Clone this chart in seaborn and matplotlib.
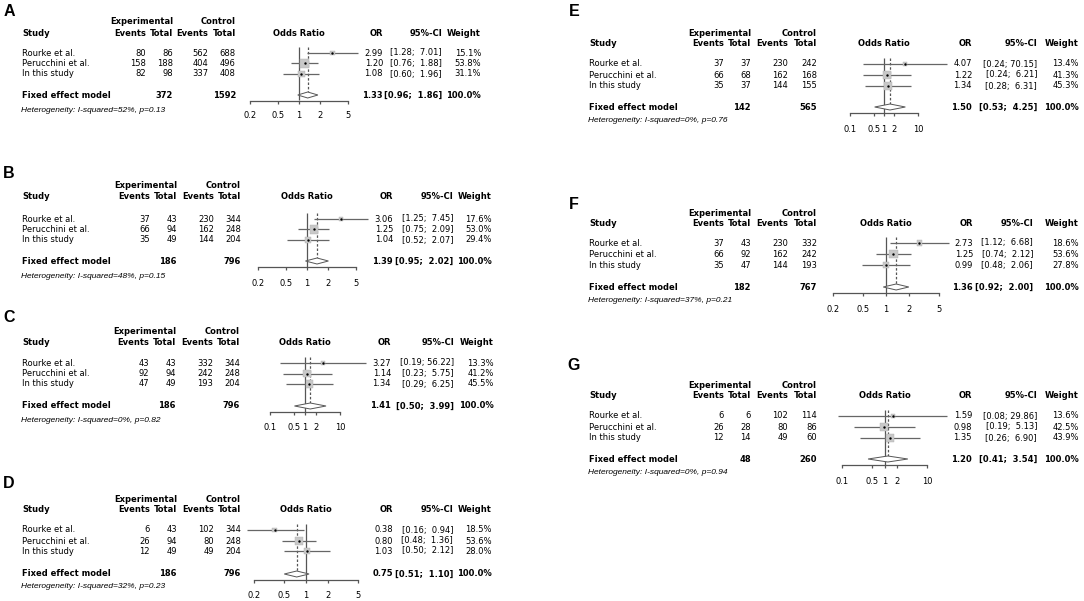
import matplotlib
matplotlib.use('Agg')
import matplotlib.pyplot as plt
from matplotlib.ticker import NullLocator
import seaborn as sns
import pandas as pd

W, H = 1084, 601

studies = ['Rourke et al.', 'Perucchini et al.', 'In this study']
panels = ['A', 'B', 'C', 'D', 'E', 'F', 'G']

exp_events = {'A': [80, 158, 82], 'B': [37, 66, 35], 'C': [43, 92, 47], 'D': [6, 26, 12],
              'E': [37, 66, 35], 'F': [37, 66, 35], 'G': [6, 26, 12]}
exp_total = {'A': [86, 188, 98], 'B': [43, 94, 49], 'C': [43, 94, 49], 'D': [43, 94, 49],
             'E': [37, 68, 37], 'F': [43, 92, 47], 'G': [6, 28, 14]}
ctrl_events = {'A': [562, 404, 337], 'B': [230, 162, 144], 'C': [332, 242, 193], 'D': [102, 80, 49],
               'E': [230, 162, 144], 'F': [230, 162, 144], 'G': [102, 80, 49]}
ctrl_total = {'A': [688, 496, 408], 'B': [344, 248, 204], 'C': [344, 248, 204], 'D': [344, 248, 204],
              'E': [242, 168, 155], 'F': [332, 242, 193], 'G': [114, 86, 60]}
odds_ratio = {'A': [2.99, 1.20, 1.08], 'B': [3.06, 1.25, 1.04], 'C': [3.27, 1.14, 1.34], 'D': [0.38, 0.80, 1.03],
              'E': [4.07, 1.22, 1.34], 'F': [2.73, 1.25, 0.99], 'G': [1.59, 0.98, 1.35]}
ci_low = {'A': [1.28, 0.76, 0.60], 'B': [1.25, 0.75, 0.52], 'C': [0.19, 0.23, 0.29], 'D': [0.16, 0.48, 0.50],
          'E': [0.24, 0.24, 0.28], 'F': [1.12, 0.74, 0.48], 'G': [0.08, 0.19, 0.26]}
ci_high = {'A': [7.01, 1.88, 1.96], 'B': [7.45, 2.09, 2.07], 'C': [56.22, 5.75, 6.25], 'D': [0.94, 1.36, 2.12],
           'E': [70.15, 6.21, 6.31], 'F': [6.68, 2.12, 2.06], 'G': [29.86, 5.13, 6.90]}
weight = {'A': [15.1, 53.8, 31.1], 'B': [17.6, 53.0, 29.4], 'C': [13.3, 41.2, 45.5], 'D': [18.5, 53.6, 28.0],
          'E': [13.4, 41.3, 45.3], 'F': [18.6, 53.6, 27.8], 'G': [13.6, 42.5, 43.9]}
pooled_or = {'A': 1.33, 'B': 1.39, 'C': 1.41, 'D': 0.75, 'E': 1.50, 'F': 1.36, 'G': 1.20}
pooled_low = {'A': 0.96, 'B': 0.95, 'C': 0.50, 'D': 0.51, 'E': 0.53, 'F': 0.92, 'G': 0.41}
pooled_high = {'A': 1.86, 'B': 2.02, 'C': 3.99, 'D': 1.10, 'E': 4.25, 'F': 2.00, 'G': 3.54}
i_squared = {'A': 52, 'B': 48, 'C': 0, 'D': 32, 'E': 0, 'F': 37, 'G': 0}
p_het = {'A': '0.13', 'B': '0.15', 'C': '0.82', 'D': '0.23', 'E': '0.76', 'F': '0.21', 'G': '0.94'}

ticks_narrow = [0.2, 0.5, 1, 2, 5]
ticks_wide = [0.1, 0.5, 1, 2, 10]
panel_ticks = {'A': ticks_narrow, 'B': ticks_narrow, 'C': ticks_wide, 'D': ticks_narrow,
               'E': ticks_wide, 'F': ticks_narrow, 'G': ticks_wide}

# pixel layout: letter, study x, column right edges, axis x range, OR/CI/weight right edges
# y: exp header, study header, row1, row2, row3, pooled, axis, heterogeneity, tick labels
layout = {
    'A': dict(letter=(9, 12), xs=22, cols=[146, 173, 208, 236], ax_x=(250, 348), xr=[383, 442, 481],
              y=[22, 33, 53, 63.5, 74, 95, 100.5, 110, 116]),
    'B': dict(letter=(9, 173), xs=22, cols=[150, 177, 214, 241], ax_x=(258, 356), xr=[393, 453, 492],
              y=[186, 197, 219, 229.5, 240, 261, 266.5, 276, 283]),
    'C': dict(letter=(9, 317), xs=22, cols=[149, 176, 213, 240], ax_x=(270, 340), xr=[391, 454, 494],
              y=[332, 342, 363, 373.5, 384, 406, 411.5, 420, 427]),
    'D': dict(letter=(9, 484), xs=22, cols=[150, 177, 214, 241], ax_x=(254, 358), xr=[393, 453, 492],
              y=[499, 510, 530, 541, 551, 574, 579.5, 587, 595]),
    'E': dict(letter=(574, 12), xs=589, cols=[724, 751, 788, 817], ax_x=(850, 918), xr=[972, 1037, 1079],
              y=[33, 44, 64, 75, 86, 107, 112.5, 121, 129]),
    'F': dict(letter=(574, 205), xs=589, cols=[724, 751, 788, 817], ax_x=(833, 939), xr=[973, 1033, 1079],
              y=[213, 223, 243, 254, 265, 287, 292.5, 301, 309]),
    'G': dict(letter=(574, 365), xs=589, cols=[724, 751, 788, 817], ax_x=(842, 927), xr=[972, 1037, 1079],
              y=[385, 395, 416, 427, 438, 459, 464.5, 473, 481]),
}

sns.set_theme(style='white')
plt.rcParams['font.family'] = ['DejaVu Sans']
plt.rcParams['text.color'] = 'black'

LINE = '#555555'
FS = 6

fig = plt.figure(figsize=(W / 100, H / 100), dpi=100)


def put(x, y, s, ha='left', **kw):
    fig.text(x / W, 1 - y / H, s, ha=ha, va='center', fontsize=kw.pop('fontsize', FS),
             color='black', **kw)


def draw_panel(key):
    lay = layout[key]
    y_exp, y_hdr, r0, r1, r2, y_pool, y_axis, y_het, y_tl = lay['y']
    rows = [r0, r1, r2]
    c1, c2, c3, c4 = lay['cols']
    x_or, x_ci, x_w = lay['xr']
    x0, x1 = lay['ax_x']

    put(lay['letter'][0], lay['letter'][1], key, ha='center', fontsize=11.5,
        fontweight='bold', family='Liberation Sans')

    # headers
    put(c2, y_exp, 'Experimental', ha='right', fontweight='bold')
    put(c4, y_exp, 'Control', ha='right', fontweight='bold')
    put(lay['xs'], y_hdr, 'Study', fontweight='bold')
    for x, s in zip(lay['cols'], ['Events', 'Total', 'Events', 'Total']):
        put(x, y_hdr, s, ha='right', fontweight='bold')
    put((x0 + x1) / 2, y_hdr, 'Odds Ratio', ha='center', fontweight='bold')
    put(x_or, y_hdr, 'OR', ha='right', fontweight='bold')
    put(x_ci, y_hdr, '95%-CI', ha='right', fontweight='bold')
    put(x_w, y_hdr, 'Weight', ha='right', fontweight='bold')

    # study rows
    for i, y in enumerate(rows):
        put(lay['xs'], y, studies[i])
        put(c1, y, str(exp_events[key][i]), ha='right')
        put(c2, y, str(exp_total[key][i]), ha='right')
        put(c3, y, str(ctrl_events[key][i]), ha='right')
        put(c4, y, str(ctrl_total[key][i]), ha='right')
        put(x_or, y, f'{odds_ratio[key][i]:.2f}', ha='right')
        put(x_ci, y, f'[{ci_low[key][i]:.2f}; {ci_high[key][i]:5.2f}]', ha='right')
        put(x_w, y, f'{weight[key][i]:.1f}%', ha='right')

    # pooled row
    put(lay['xs'], y_pool, 'Fixed effect model', fontweight='bold')
    put(c2, y_pool, str(sum(exp_total[key])), ha='right', fontweight='bold')
    put(c4, y_pool, str(sum(ctrl_total[key])), ha='right', fontweight='bold')
    put(x_or, y_pool, f'{pooled_or[key]:.2f}', ha='right', fontweight='bold')
    put(x_ci, y_pool, f'[{pooled_low[key]:.2f}; {pooled_high[key]:5.2f}]', ha='right', fontweight='bold')
    put(x_w, y_pool, '100.0%', ha='right', fontweight='bold')
    put(lay['xs'] - 1, y_het, f'Heterogeneity: I-squared={i_squared[key]}%, p={p_het[key]}',
        family='Liberation Sans', style='italic')

    # forest axes, y data in figure pixels
    top = r0 - 6
    ax = fig.add_axes([x0 / W, 1 - y_axis / H, (x1 - x0) / W, (y_axis - top) / H])
    ax.patch.set_alpha(0)
    ticks = panel_ticks[key]
    ax.set_xscale('log')
    ax.set_xlim(ticks[0], ticks[-1])
    ax.set_ylim(y_axis, top)

    df = pd.DataFrame({'or': odds_ratio[key], 'lo': ci_low[key], 'hi': ci_high[key],
                       'w': weight[key], 'y': rows})
    ax.hlines(df['y'], df['lo'], df['hi'], color='#666666', lw=0.9, clip_on=False, zorder=2)
    sns.scatterplot(data=df, x='or', y='y', size='w', sizes=(0, 70), size_norm=(0, 100),
                    marker='s', color='#c8c8c8', edgecolor='#b0b0b0', linewidth=0.3,
                    legend=False, ax=ax, zorder=3, clip_on=False)
    sns.scatterplot(data=df, x='or', y='y', s=3, color='black', linewidth=0,
                    legend=False, ax=ax, zorder=4, clip_on=False)

    dh = 3
    ax.fill([pooled_low[key], pooled_or[key], pooled_high[key], pooled_or[key]],
            [y_pool, y_pool - dh, y_pool, y_pool + dh],
            facecolor='white', edgecolor=LINE, lw=0.7, zorder=3)
    ax.vlines(1, top, y_axis, color=LINE, lw=0.9, zorder=1)
    ax.vlines(pooled_or[key], top, y_pool - dh, color=LINE, lw=0.9,
              linestyles=(0, (2, 1.5)), zorder=1)

    for side in ['top', 'left', 'right']:
        ax.spines[side].set_visible(False)
    ax.spines['bottom'].set_color(LINE)
    ax.spines['bottom'].set_linewidth(0.9)
    ax.set_xticks(ticks)
    ax.set_xticklabels([f'{t:g}' for t in ticks])
    ax.xaxis.set_minor_locator(NullLocator())
    ax.set_yticks([])
    ax.set_xlabel('')
    ax.set_ylabel('')
    tick_len = 3
    pad = max(0.5, (y_tl - y_axis - tick_len - 4.5)) * 0.72
    ax.tick_params(axis='x', which='major', direction='out', bottom=True, length=tick_len * 0.72,
                   width=0.9, color=LINE, labelsize=FS, pad=pad, labelcolor='black')


for key in panels:
    draw_panel(key)

plt.savefig('out.png', dpi=100)
plt.close()
